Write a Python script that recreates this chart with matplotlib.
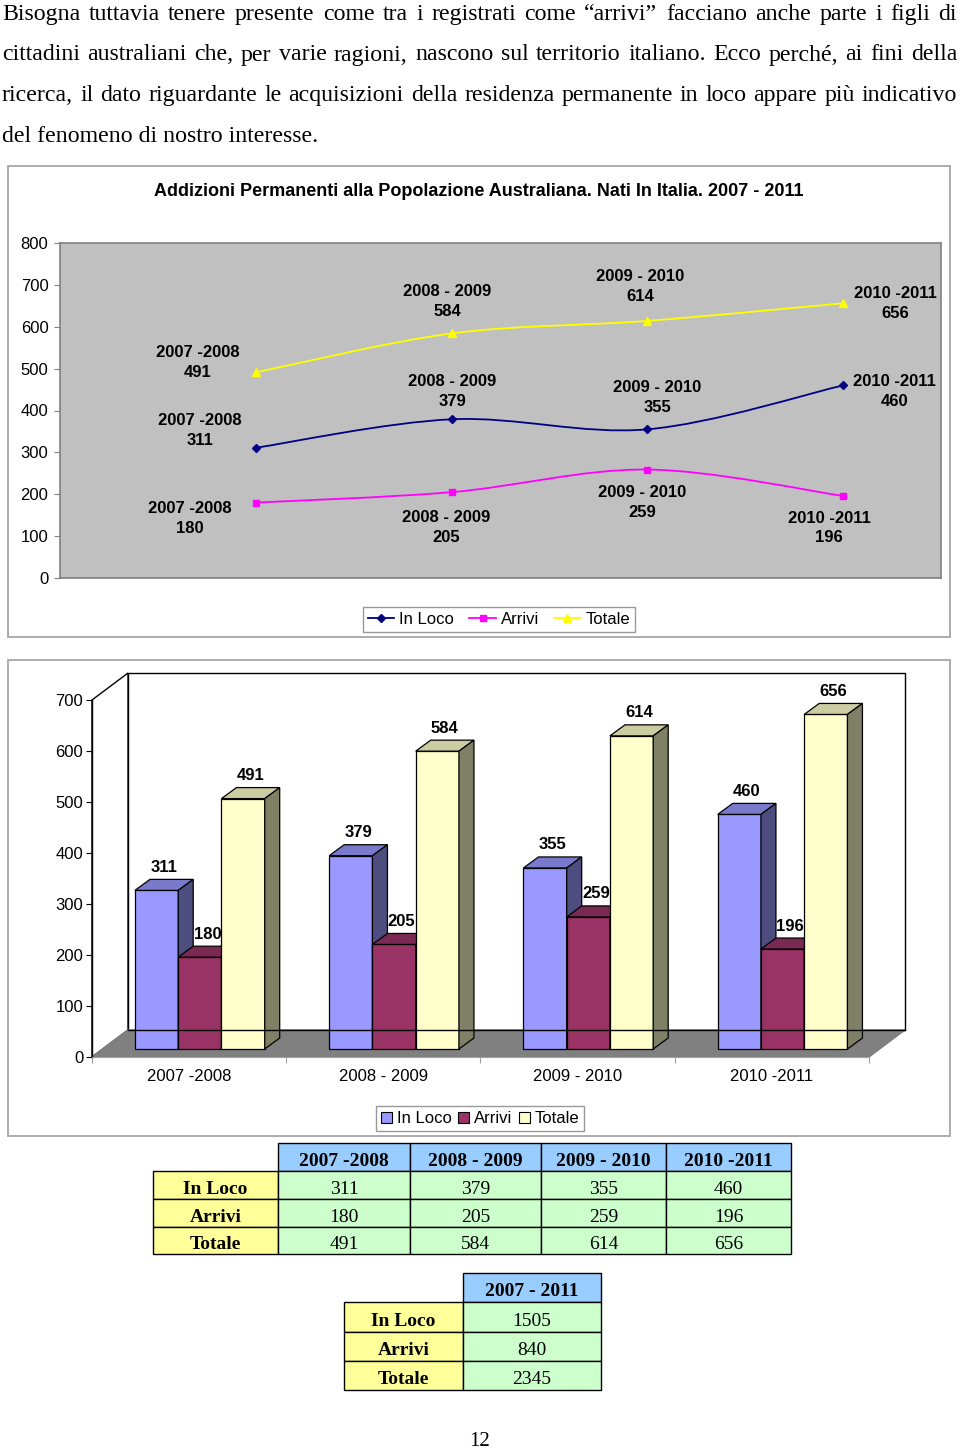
import matplotlib
matplotlib.use('Agg')
import matplotlib.pyplot as plt
from matplotlib.patches import Polygon, Rectangle, PathPatch, Patch
from matplotlib.path import Path
from matplotlib.lines import Line2D

W, H = 960, 1451
plt.rcParams['font.family'] = ['Liberation Sans', 'DejaVu Sans']

# ---------------- data ----------------
periods = ['2007 -2008', '2008 - 2009', '2009 - 2010', '2010 -2011']
series_names = ['In Loco', 'Arrivi', 'Totale']
in_loco = [311, 379, 355, 460]
arrivi = [180, 205, 259, 196]
totale = [491, 584, 614, 656]
total_period = '2007 - 2011'
totals_all = [1505, 840, 2345]
line_yticks = [0, 100, 200, 300, 400, 500, 600, 700, 800]
bar_yticks = [0, 100, 200, 300, 400, 500, 600, 700]

paragraph = [
    'Bisogna tuttavia tenere presente come tra i registrati come \u201carrivi\u201d facciano anche parte i figli di',
    'cittadini australiani che, per varie ragioni, nascono sul territorio italiano. Ecco perch\u00e9, ai fini della',
    'ricerca, il dato riguardante le acquisizioni della residenza permanente in loco appare pi\u00f9 indicativo',
    'del fenomeno di nostro interesse.',
]
line_title = 'Addizioni Permanenti alla Popolazione Australiana. Nati In Italia. 2007 - 2011'
page_number = '12'

# label offsets (pixels) for line-chart data labels
label_offsets = {
    'In Loco': [(-56, 17), (1, 28), (10, 32), (51, -6)],
    'Arrivi': [(-66, -16), (-5, -35), (-5, -33), (-14, -32)],
    'Totale': [(-58, 10), (-4, 32), (-7, 34), (52, 0)],
}

series = [in_loco, arrivi, totale]
line_colors = ['#000080', '#FF00FF', '#FFFF00']
line_markers = ['D', 's', '^']
marker_sizes = [4.5, 5, 6]
bar_front = ['#9999FF', '#993366', '#FFFFCC']
bar_top = ['#7A7ACC', '#7A2952', '#CCCCA3']
bar_side = ['#4D4D80', '#4D1A33', '#808066']

FS = 12  # chart font size


def fig_rect(x0, y0, x1, y1):
    return [x0 / W, 1 - y1 / H, (x1 - x0) / W, (y1 - y0) / H]


fig = plt.figure(figsize=(W / 100, H / 100), dpi=100)
page = fig.add_axes([0, 0, 1, 1], zorder=0)
page.set_xlim(0, W)
page.set_ylim(H, 0)
page.axis('off')
renderer = fig.canvas.get_renderer()

# ---------------- paragraph (justified) ----------------
serif = ['Liberation Serif', 'DejaVu Serif']


def text_w(s, fs, **kw):
    t = page.text(0, 0, s, fontsize=fs, family=serif, **kw)
    w = t.get_window_extent(renderer).width
    t.remove()
    return w


maxw = max(text_w(l, 10) for l in paragraph[:3])
fs_par = min(18.5, 10 * 945 / maxw)
baselines = [20, 60.5, 101, 141.5]
for li, line in enumerate(paragraph):
    if li < 3:
        words = line.split(' ')
        widths = [text_w(w_, fs_par) for w_ in words]
        gap = (957 - 2 - sum(widths)) / (len(words) - 1)
        x = 2
        for w_, ww in zip(words, widths):
            page.text(x, baselines[li], w_, fontsize=fs_par, family=serif,
                      ha='left', va='baseline')
            x += ww + gap
    else:
        page.text(2, baselines[li], line, fontsize=fs_par, family=serif,
                  ha='left', va='baseline')

# ---------------- chart boxes ----------------
for (x0, y0, x1, y1) in [(8, 166, 950, 637), (8, 660, 950, 1136)]:
    page.add_patch(Rectangle((x0, y0), x1 - x0, y1 - y0, fc='white',
                             ec='#A6A6A6', lw=1.3))

page.text(479, 191.5, line_title, fontsize=13, fontweight='bold',
          ha='center', va='center')

# ---------------- line chart ----------------
ax = fig.add_axes(fig_rect(60, 243, 941, 578), zorder=2)
ax.set_facecolor('#C0C0C0')
ax.set_xlim(0, 4.5)
ax.set_ylim(0, 800)
ax.set_yticks(line_yticks)
ax.set_xticks([])
ax.tick_params(axis='y', length=4.3, width=0.8, color='#808080', pad=4,
               labelsize=FS)
for sp in ax.spines.values():
    sp.set_color('#808080')
    sp.set_linewidth(1.2)

xs = [1, 2, 3, 4]


def smooth_path(xv, yv):
    P = list(zip(xv, yv))
    n = len(P)
    verts = [P[0]]
    codes = [Path.MOVETO]
    for i in range(n - 1):
        p0 = P[i - 1] if i > 0 else P[i]
        p1, p2 = P[i], P[i + 1]
        p3 = P[i + 2] if i + 2 < n else P[i + 1]
        c1 = (p1[0] + (p2[0] - p0[0]) / 6, p1[1] + (p2[1] - p0[1]) / 6)
        c2 = (p2[0] - (p3[0] - p1[0]) / 6, p2[1] - (p3[1] - p1[1]) / 6)
        verts += [c1, c2, p2]
        codes += [Path.CURVE4] * 3
    return Path(verts, codes)


handles = []
for name, vals, c, m, ms in zip(series_names, series, line_colors,
                                line_markers, marker_sizes):
    ax.add_patch(PathPatch(smooth_path(xs, vals), fill=False, ec=c, lw=1.3))
    ax.plot(xs, vals, ls='none', marker=m, ms=ms, color=c, mec=c)
    for i, v in enumerate(vals):
        dx, dy = label_offsets[name][i]
        ax.annotate(f'{periods[i]}\n{v}', xy=(xs[i], v), xytext=(dx, dy),
                    textcoords='offset pixels', ha='center', va='center',
                    fontsize=FS, fontweight='bold', linespacing=1.4,
                    annotation_clip=False)
    handles.append(Line2D([], [], color=c, lw=1.3, marker=m, ms=ms, mec=c))

leg1 = fig.legend(handles, series_names, loc='center',
                  bbox_to_anchor=(499 / W, 1 - 619 / H), ncol=3, fontsize=FS,
                  frameon=True, fancybox=False, edgecolor='#808080',
                  handlelength=1.6, handletextpad=0.3, columnspacing=0.9,
                  borderpad=0.3)
leg1.get_frame().set_linewidth(1)

# ---------------- 3D bar chart ----------------
px_cat, px_val = 194.25, 0.51
fx, fy = 92, 1057
bx = fig.add_axes(fig_rect(8, 660, 950, 1136), zorder=2)
bx.set_facecolor('none')
bx.set_xlim((8 - fx) / px_cat, (950 - fx) / px_cat)
bx.set_ylim((fy - 1136) / px_val, (fy - 660) / px_val)

DXw, DYw = 36 / px_cat, 27 / px_val
bw = 43.25 / px_cat
OX, OY = 10.7 / px_cat, 8 / px_val
BDX, BDY = 15 / px_cat, 11 / px_val
ncat = len(periods)
vmax = bar_yticks[-1]

bx.add_patch(Polygon([(DXw, DYw), (ncat + DXw, DYw), (ncat + DXw, vmax + DYw),
                      (DXw, vmax + DYw)], fc='white', ec='black', lw=1))
bx.add_patch(Polygon([(0, 0), (DXw, DYw), (DXw, vmax + DYw), (0, vmax)],
                     fc='white', ec='black', lw=1))
bx.add_patch(Polygon([(0, 0), (ncat, 0), (ncat + DXw, DYw), (DXw, DYw)],
                     fc='#808080', ec='#808080', lw=1))
bx.plot([DXw, ncat + DXw], [DYw, DYw], color='black', lw=1)

for i in range(ncat):
    for k, vals in enumerate(series):
        v = vals[i]
        left = i + 0.5 - 1.5 * bw + k * bw + OX
        base = OY
        bx.add_patch(Rectangle((left, base), bw, v, fc=bar_front[k],
                               ec='black', lw=0.9))
        bx.add_patch(Polygon([(left, base + v), (left + bw, base + v),
                              (left + bw + BDX, base + v + BDY),
                              (left + BDX, base + v + BDY)],
                             fc=bar_top[k], ec='black', lw=0.9))
        bx.add_patch(Polygon([(left + bw, base), (left + bw + BDX, base + BDY),
                              (left + bw + BDX, base + v + BDY),
                              (left + bw, base + v)],
                             fc=bar_side[k], ec='black', lw=0.9))
        bx.annotate(str(v), xy=(left + bw / 2 + BDX / 2, base + v + BDY),
                    xytext=(0, 12), textcoords='offset pixels', ha='center',
                    va='center', fontsize=FS, fontweight='bold')

for s in ['top', 'right']:
    bx.spines[s].set_visible(False)
bx.spines['left'].set_position(('data', 0))
bx.spines['left'].set_bounds(0, vmax)
bx.spines['left'].set_linewidth(1)
bx.spines['bottom'].set_position(('data', 0))
bx.spines['bottom'].set_bounds(0, ncat)
bx.spines['bottom'].set_color('#A0A0A0')
bx.set_yticks(bar_yticks)
bx.tick_params(axis='y', length=4.3, width=0.8, pad=2, labelsize=FS)
bx.set_xticks(range(ncat + 1))
bx.set_xticklabels([])
bx.tick_params(axis='x', which='major', length=4, color='#A0A0A0')
bx.set_xticks([i + 0.5 for i in range(ncat)], minor=True)
bx.set_xticklabels(periods, minor=True)
bx.tick_params(axis='x', which='minor', length=0, pad=8.5, labelsize=FS)

bhandles = [Patch(fc=c, ec='black', lw=0.8) for c in bar_front]
leg2 = fig.legend(bhandles, series_names, loc='center',
                  bbox_to_anchor=(480 / W, 1 - 1118.5 / H), ncol=3, fontsize=FS,
                  frameon=True, fancybox=False, edgecolor='#808080',
                  handlelength=0.65, handleheight=0.65, handletextpad=0.3,
                  columnspacing=0.4, borderpad=0.3)
leg2.get_frame().set_linewidth(1)

# ---------------- tables ----------------
tfs = 14
dy_txt = 4


def draw_table(col_edges, row_edges, headers, labels, rows):
    for j, hdr in enumerate(headers):
        x0, x1 = col_edges[j + 1], col_edges[j + 2]
        y0, y1 = row_edges[0], row_edges[1]
        page.add_patch(Rectangle((x0, y0), x1 - x0, y1 - y0, fc='#99CCFF',
                                 ec='black', lw=1))
        page.text((x0 + x1) / 2, (y0 + y1) / 2 + dy_txt, hdr, fontsize=tfs,
                  family=serif, fontweight='bold', ha='center', va='center')
    for r, lab in enumerate(labels):
        y0, y1 = row_edges[r + 1], row_edges[r + 2]
        x0, x1 = col_edges[0], col_edges[1]
        page.add_patch(Rectangle((x0, y0), x1 - x0, y1 - y0, fc='#FFFF99',
                                 ec='black', lw=1))
        page.text((x0 + x1) / 2, (y0 + y1) / 2 + dy_txt, lab, fontsize=tfs,
                  family=serif, fontweight='bold', ha='center', va='center')
        for j, val in enumerate(rows[r]):
            x0, x1 = col_edges[j + 1], col_edges[j + 2]
            page.add_patch(Rectangle((x0, y0), x1 - x0, y1 - y0,
                                     fc='#CCFFCC', ec='black', lw=1))
            page.text((x0 + x1) / 2, (y0 + y1) / 2 + dy_txt, str(val),
                      fontsize=tfs, family=serif, ha='center', va='center')


draw_table([153, 278, 410, 541, 666, 791], [1143, 1171, 1199, 1227, 1254],
           periods, series_names, [in_loco, arrivi, totale])
draw_table([344, 463, 601], [1273, 1302, 1332, 1361, 1390],
           [total_period], series_names, [[t] for t in totals_all])

page.text(480, 1441.5, page_number, fontsize=15, family=serif, ha='center',
          va='center')

fig.savefig('out.png', dpi=100)
